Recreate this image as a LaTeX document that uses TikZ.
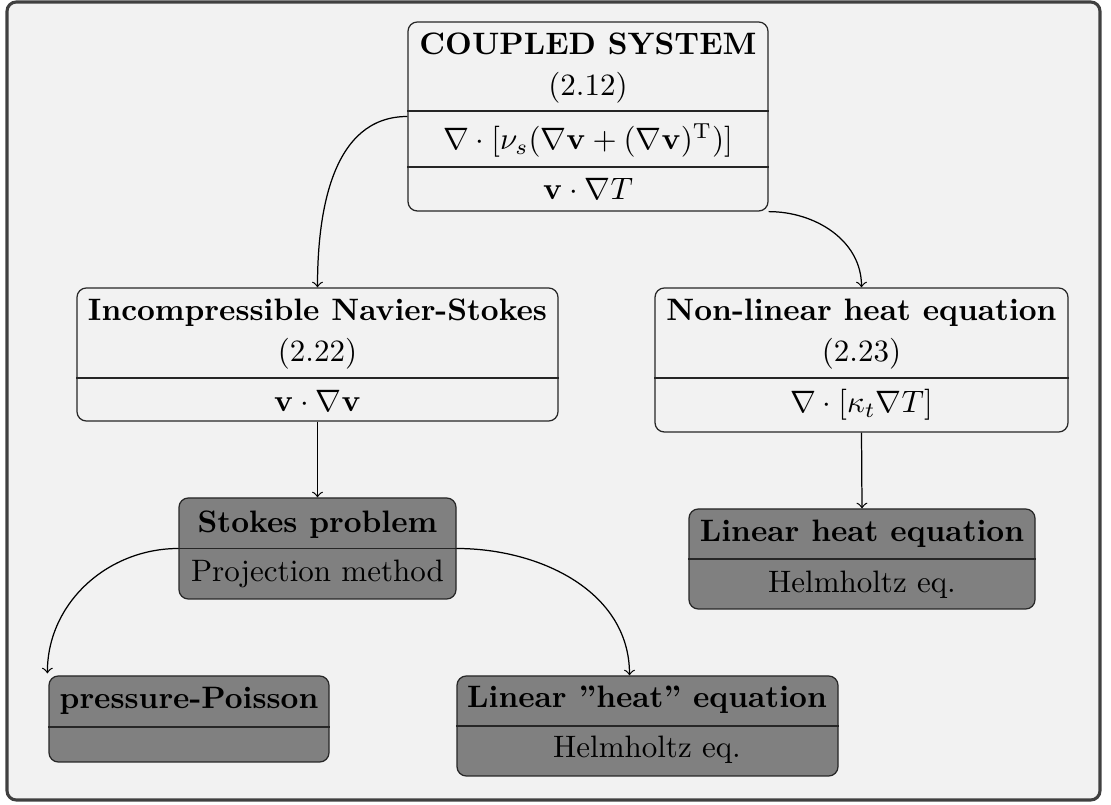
\documentclass[tikz,border=0pt]{standalone}
\usetikzlibrary{fit,calc}
\begin{document}
\begin{tikzpicture}[x=0.3226pt,y=-0.3226pt,
  frame/.style={draw=black!75,line width=1pt,fill=gray!10,rounded corners=3pt},
  lbox/.style={draw=black!85,line width=0.4pt,rounded corners=3pt,inner sep=0pt},
  dbox/.style={draw=black!85,line width=0.4pt,fill=gray,rounded corners=3pt,inner sep=0pt},
  txt/.style={anchor=base,inner sep=0pt},
  divider/.style={draw=black!85,line width=0.4pt},
  conn/.style={->,black,line width=0.4pt}]
\useasboundingbox (0,0) rectangle (1111,805);
\path[frame] (7,2) rectangle (1100,800);

% boxes
\node[lbox,fit={(408,22)(768,211)}] (cs) {};
\node[lbox,fit={(77,288)(558,421)}] (ns) {};
\node[lbox,fit={(655,288)(1068,432)}] (nl) {};
\node[dbox,fit={(179,498)(456,599)}] (st) {};
\node[dbox,fit={(689,509)(1035,609)}] (lh) {};
\node[dbox,fit={(49,676)(329,762)}] (pp) {};
\node[dbox,fit={(457,676)(838,776)}] (lq) {};

% dividers
\draw[divider] (cs.west |- 0,111) -- (cs.east |- 0,111);
\draw[divider] (cs.west |- 0,167) -- (cs.east |- 0,167);
\draw[divider] (ns.west |- 0,378) -- (ns.east |- 0,378);
\draw[divider] (nl.west |- 0,378) -- (nl.east |- 0,378);
\draw[divider] (st.west) -- (st.east);
\draw[divider] (lh.west) -- (lh.east);
\draw[divider] (pp.west |- 0,727) -- (pp.east |- 0,727);
\draw[divider] (lq.west |- 0,726) -- (lq.east |- 0,726);

% texts
\node[txt] (cs1) at (588,55) {\bfseries COUPLED SYSTEM};
\node[txt] (cs2) at (588,96) {(2.12)};
\node[txt] (cs3) at (588,150) {$\nabla\cdot[\nu_s(\nabla\mathbf{v}+(\nabla\mathbf{v})^{\mathrm{T}})]$};
\node[txt] (cs4) at (588,200) {$\mathbf{v}\cdot\nabla T$};

\node[txt] (ns1) at (317.5,321) {\bfseries Incompressible Navier-Stokes};
\node[txt] (ns2) at (317.5,362) {(2.22)};
\node[txt] (ns3) at (317.5,412) {$\mathbf{v}\cdot\nabla\mathbf{v}$};

\node[txt] (nl1) at (861.5,321) {\bfseries Non-linear heat equation};
\node[txt] (nl2) at (861.5,362) {(2.23)};
\node[txt] (nl3) at (861.5,413) {$\nabla\cdot[\kappa_t\nabla T]$};

\node[txt] (st1) at (317.5,533) {\bfseries Stokes problem};
\node[txt] (st2) at (317.5,582) {Projection method};

\node[txt] (lh1) at (862,542) {\bfseries Linear heat equation};
\node[txt] (lh2) at (862,593) {Helmholtz eq.};

\node[txt] (pp1) at (189,709) {\bfseries pressure-Poisson};

\node[txt] (lq1) at (647,708) {\bfseries Linear \textquotedblright heat\textquotedblright\ equation};
\node[txt] (lq2) at (647,758) {Helmholtz eq.};

% connectors
\draw[conn] (cs.west) to[out=180,in=90] (ns.north);
\draw[conn] (cs.south east) to[out=0,in=90] (nl.north);
\draw[conn] (ns.south) -- (st.north);
\draw[conn] (nl.south) -- (lh.north);
\draw[conn] (st.west) to[out=180,in=90] ($(pp.north west)+(-1,-2)$);
\draw[conn] (st.east) to[out=0,in=90] ($(lq.north)+(-18,0)$);
\end{tikzpicture}
\end{document}
